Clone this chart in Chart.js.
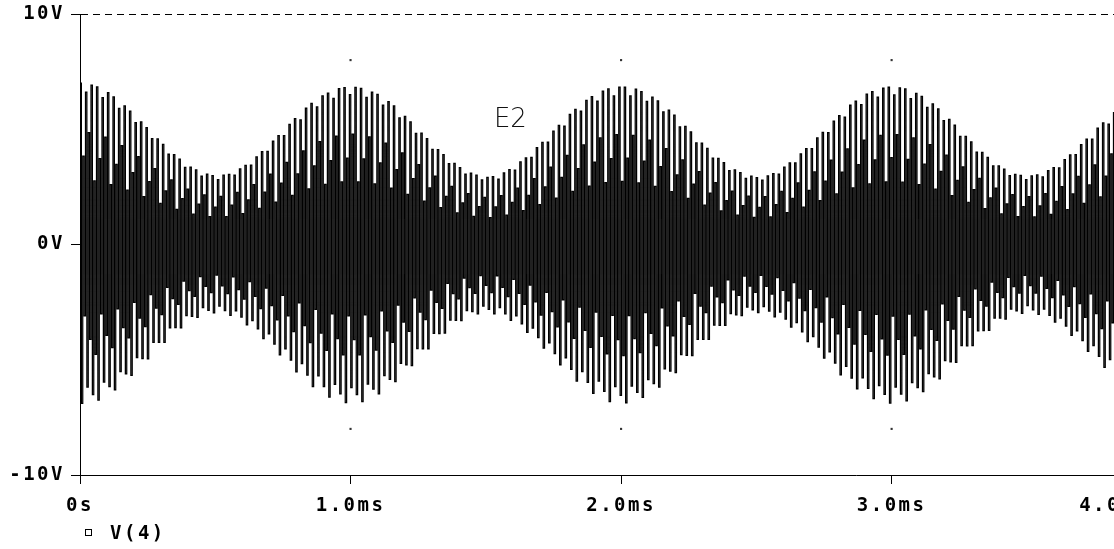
<!DOCTYPE html>
<html>
<head>
<meta charset="utf-8">
<script src="https://cdn.jsdelivr.net/npm/chart.js@4/dist/chart.umd.min.js"></script>
<style>
  html, body { margin:0; padding:0; background:#fff; overflow:hidden; }
  #wrap { width:1114px; height:549px; }
</style>
</head>
<body>
<div id="wrap"><canvas id="c" width="1114" height="549"></canvas></div>
<script>
/* ---------- dados ---------- */
const traceLabel = "V(4)";
const markerText = "E2";
const markerAt = [1.53, 5.1];          // ms, V (linha de base do texto)

const xTickValues = [0, 1, 2, 3, 3.822];
const xTickLabels = ["0s", "1.0ms", "2.0ms", "3.0ms", "4.0ms"];
const xMax = 3.822;                     // borda direita da janela
const yTickLabels = {"-10": "-10V", "0": "0V", "10": "10V"};

// envoltória lida a cada 0.05 ms (de 0 a 3.85 ms)
const envStep = 0.05;
const envTop = [
  7.0, 6.9, 6.6, 6.15, 5.6, 5.0, 4.4, 3.85, 3.4, 3.1,
  2.95, 3.05, 3.35, 3.8, 4.35, 4.95, 5.55, 6.1, 6.5, 6.75,
  6.85, 6.75, 6.5, 6.1, 5.55, 4.95, 4.35, 3.8, 3.35, 3.05,
  2.9, 3.0, 3.35, 3.8, 4.35, 4.95, 5.55, 6.1, 6.5, 6.75,
  6.85, 6.75, 6.5, 6.1, 5.55, 4.95, 4.35, 3.8, 3.35, 3.05,
  2.9, 3.0, 3.35, 3.8, 4.35, 4.95, 5.55, 6.1, 6.5, 6.75,
  6.85, 6.75, 6.5, 6.1, 5.55, 4.95, 4.35, 3.8, 3.35, 3.05,
  2.95, 3.05, 3.35, 3.8, 4.35, 4.95, 5.5, 6.05
];
const envBot = [
  -6.9, -6.85, -6.55, -6.1, -5.55, -4.95, -4.35, -3.8, -3.35, -3.05,
  -2.95, -3.05, -3.35, -3.8, -4.35, -4.95, -5.55, -6.1, -6.5, -6.8,
  -6.9, -6.8, -6.5, -6.1, -5.55, -4.95, -4.35, -3.8, -3.35, -3.05,
  -2.95, -3.05, -3.35, -3.8, -4.35, -4.95, -5.55, -6.1, -6.5, -6.8,
  -6.9, -6.8, -6.5, -6.1, -5.55, -4.95, -4.35, -3.8, -3.35, -3.05,
  -2.95, -3.05, -3.35, -3.8, -4.35, -4.95, -5.55, -6.1, -6.5, -6.8,
  -6.9, -6.8, -6.5, -6.1, -5.55, -4.95, -4.35, -3.8, -3.35, -3.05,
  -2.95, -3.05, -3.35, -3.8, -4.35, -4.95, -5.5, -6.05
];
// espaçamento entre amostras visíveis da portadora (ms)
const sampleStep = 0.00508;
const strokePattern = [1, -1, 0.55, -0.45, 0.95, -0.9, 0.7, -0.6, 1, -0.95, 0.4, -0.7];

// pontos da grade pontilhada
const gridDotsX = [1, 2, 3, 1, 2, 3];
const gridDotsY = [8, 8, 8, -8, -8, -8];

/* ---------- monta a série ---------- */
function envAt(arr, t){
  const k = t / envStep;
  const j = Math.min(Math.floor(k), arr.length - 2);
  const f = k - j;
  return arr[j] + (arr[j+1] - arr[j]) * f;
}
const wave = [];
for(let i = 0; i * sampleStep <= (envTop.length - 1) * envStep; i++){
  const t = i * sampleStep;
  const r = strokePattern[i % strokePattern.length];
  wave.push({x: t, y: r >= 0 ? r * envAt(envTop, t) : -r * envAt(envBot, t)});
}
const dots = gridDotsX.map((x, i) => ({x, y: gridDotsY[i]}));

const FONT = '"DejaVu Sans Mono", monospace';
const tickFont = {family: FONT, size: 19, weight: "bold"};

/* ---------- plugins ---------- */
const spacing = {
  id: "spacing",
  beforeLayout(chart){ chart.ctx.letterSpacing = "2.5px"; },
  beforeDraw(chart){ chart.ctx.letterSpacing = "2.5px"; }
};

const extras = {
  id: "extras",
  afterDraw(chart){
    const {ctx, scales:{x, y}} = chart;
    ctx.save();
    // rótulo E2
    ctx.letterSpacing = "0px";
    ctx.fillStyle = "#111";
    ctx.font = '300 26px "DejaVu Sans"';
    ctx.textAlign = "left";
    ctx.textBaseline = "alphabetic";
    ctx.fillText(markerText, x.getPixelForValue(markerAt[0]), y.getPixelForValue(markerAt[1]));
    // legenda
    ctx.strokeStyle = "#000";
    ctx.lineWidth = 1;
    ctx.strokeRect(85.5, 529.5, 6, 6);
    ctx.letterSpacing = "2.5px";
    ctx.fillStyle = "#000";
    ctx.font = 'bold 19px ' + FONT;
    ctx.textBaseline = "middle";
    ctx.fillText(chart.data.datasets[0].label, 110, 534);
    ctx.restore();
  }
};

/* ---------- gráfico ---------- */
new Chart(document.getElementById("c"), {
  type: "line",
  data: {
    datasets: [
      { label: traceLabel, data: wave, borderColor: "#000", borderWidth: 1.25,
        stepped: true, pointRadius: 0, fill: false, order: 1 },
      { label: "grid", type: "scatter", data: dots, pointStyle: "rect",
        pointRadius: 1.5, pointBackgroundColor: "#333", pointBorderWidth: 0, order: 2 }
    ]
  },
  options: {
    responsive: false,
    animation: false,
    devicePixelRatio: 1,
    layout: { autoPadding: false, padding: {top: 14, right: 0, bottom: 0, left: 0} },
    plugins: { legend: {display: false}, tooltip: {enabled: false} },
    scales: {
      x: {
        type: "linear", min: 0, max: xMax,
        afterBuildTicks: s => { s.ticks = xTickValues.map(v => ({value: v})); },
        afterFit: s => { s.height = 74; s.paddingLeft = 0; s.paddingRight = 0; },
        ticks: {
          autoSkip: false, maxRotation: 0, color: "#000", font: tickFont, padding: 11,
          callback: (v, i) => xTickLabels[i]
        },
        grid: {
          drawOnChartArea: false, tickLength: 9,
          tickColor: c => c.index === xTickValues.length - 1 ? "rgba(0,0,0,0)" : "#000"
        },
        border: { display: true, color: "#000", dash: [7, 5] }
      },
      y: {
        min: -10, max: 10,
        afterFit: s => { s.width = 80; s.paddingTop = 0; s.paddingBottom = 0; },
        ticks: {
          stepSize: 10, color: "#000", font: tickFont, padding: 6,
          callback: v => yTickLabels[String(v)]
        },
        grid: {
          tickLength: 9, tickColor: "#000", tickBorderDash: [],
          color: c => c.tick && c.tick.value === 0 ? "rgba(0,0,0,0)" : "#000",
          borderDash: [7, 5], lineWidth: 1
        },
        border: { display: true, color: "#000", dash: [7, 5] }
      }
    }
  },
  plugins: [spacing, extras]
});
</script>
</body>
</html>
